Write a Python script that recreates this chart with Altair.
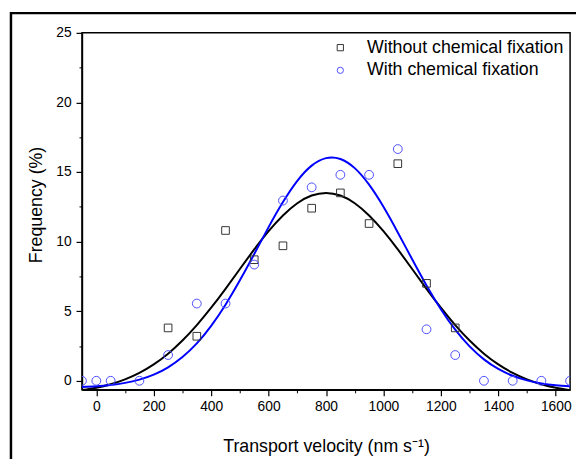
import altair as alt
import pandas as pd

S1 = "Without chemical fixation"
S2 = "With chemical fixation"

# measured points
vel_without = [250, 350, 450, 550, 650, 750, 850, 950, 1050, 1150, 1250]
freq_without = [3.8, 3.2, 10.8, 8.7, 9.7, 12.4, 13.5, 11.3, 15.6, 7.0, 3.8]

vel_with = [-50, 0, 50, 150, 250, 350, 450, 550, 650, 750, 850, 950, 1050, 1150, 1250, 1350, 1450, 1550, 1650]
freq_with = [0, 0, 0, 0, 1.85, 5.55, 5.55, 8.35, 12.95, 13.9, 14.8, 14.8, 16.65, 3.7, 1.85, 0, 0, 0, 0]

# fitted curves
fit_x = [-50, 0, 50, 100, 150, 200, 250, 300, 350, 400, 450, 500, 550, 600, 650, 700, 750, 800,
         850, 900, 950, 1000, 1050, 1100, 1150, 1200, 1250, 1300, 1350, 1400, 1450, 1500, 1550, 1600, 1650]
fit_without = [-0.68, -0.50, -0.25, 0.10, 0.57, 1.18, 1.95, 2.89, 4.00, 5.25, 6.61, 8.03, 9.44, 10.75,
               11.88, 12.76, 13.31, 13.50, 13.31, 12.76, 11.88, 10.75, 9.44, 8.03, 6.61, 5.25, 4.00,
               2.89, 1.95, 1.18, 0.57, 0.10, -0.25, -0.50, -0.68]
fit_with = [-0.44, -0.39, -0.30, -0.15, 0.08, 0.44, 0.97, 1.71, 2.69, 3.95, 5.47, 7.22, 9.11, 11.04,
            12.84, 14.37, 15.46, 16.00, 15.94, 15.28, 14.09, 12.50, 10.66, 8.73, 6.85, 5.14, 3.67,
            2.47, 1.54, 0.85, 0.36, 0.03, -0.19, -0.32, -0.40]

x_major = [0, 200, 400, 600, 800, 1000, 1200, 1400, 1600]
x_minor = [100, 300, 500, 700, 900, 1100, 1300, 1500]
y_major = [0, 5, 10, 15, 20, 25]
y_minor = [2.5, 7.5, 12.5, 17.5, 22.5]

pts = pd.concat([
    pd.DataFrame({"v": vel_without, "f": freq_without, "series": S1}),
    pd.DataFrame({"v": vel_with, "f": freq_with, "series": S2}),
])
fit1 = pd.DataFrame({"v": fit_x, "f": fit_without})
fit2 = pd.DataFrame({"v": fit_x, "f": fit_with})

FONT = "Liberation Sans"
xs = alt.Scale(domain=[-50, 1650], nice=False, zero=False)
ys = alt.Scale(domain=[-0.65, 25], nice=False, zero=False)

def ax_minor(vals, orient):
    return alt.Axis(values=vals, orient=orient, labels=False, title=None, grid=False,
                    tickSize=3, tickColor="black", tickWidth=1, domain=False)

minor = alt.Chart(fit1).mark_line(clip=True, strokeWidth=2, color="black",
                                  interpolate="natural").encode(
    x=alt.X("v:Q", scale=xs, axis=ax_minor(x_minor, "bottom")),
    y=alt.Y("f:Q", scale=ys, axis=ax_minor(y_minor, "left")),
)

blue_line = alt.Chart(fit2).mark_line(clip=True, strokeWidth=2, color="#0000ff",
                                      interpolate="natural").encode(
    x=alt.X("v:Q", scale=xs, axis=None),
    y=alt.Y("f:Q", scale=ys, axis=None),
)

leg = alt.Legend(title=None, orient="none", legendX=253, legendY=6)
points = alt.Chart(pts).mark_point(filled=False, strokeWidth=1, clip=True, opacity=1).encode(
    x=alt.X("v:Q", scale=xs, axis=alt.Axis(values=x_major, orient="bottom",
            title="Transport velocity (nm s⁻¹)", grid=False, tickSize=6, labelPadding=4,
            titlePadding=25, format="d")),
    y=alt.Y("f:Q", scale=ys, axis=alt.Axis(values=y_major, orient="left",
            title="Frequency (%)", grid=False, tickSize=6, labelPadding=5, titlePadding=10,
            titleY=174)),
    shape=alt.Shape("series:N", scale=alt.Scale(domain=[S1, S2], range=["square", "circle"]),
                    legend=leg),
    color=alt.Color("series:N", scale=alt.Scale(domain=[S1, S2], range=["#333333", "#4d4dff"]),
                    legend=leg),
    size=alt.Size("series:N", scale=alt.Scale(domain=[S1, S2], range=[60, 80]), legend=None),
)

frame = alt.Chart(pd.DataFrame({"a": [0]})).mark_rect(
    fillOpacity=0, stroke="black", strokeWidth=2.5, clip=False).encode(
    x=alt.value(-72), x2=alt.value(640), y=alt.value(-20), y2=alt.value(540))

chart = alt.layer(minor, blue_line, points, frame).resolve_axis(
    x="independent", y="independent"
).resolve_legend(size="independent").properties(
    width=495, height=362,
    padding={"left": 75, "top": 22, "right": 6, "bottom": 72},
    autosize=alt.AutoSizeParams(type="none"),
).configure_view(
    stroke="black", strokeWidth=1.5
).configure_axis(
    labelFont=FONT, titleFont=FONT, labelFontSize=14, titleFontSize=18,
    labelColor="black", titleColor="black", titleFontWeight="normal",
    domainColor="black", domainWidth=1.5, tickColor="black", tickWidth=1.2,
).configure_legend(
    labelFont=FONT, labelFontSize=18, labelColor="black", symbolSize=40, labelLimit=0,
    symbolStrokeWidth=1, rowPadding=5, labelOffset=18, padding=0,
)

chart.save("out.html", embed_options={"renderer": "svg", "actions": False})
